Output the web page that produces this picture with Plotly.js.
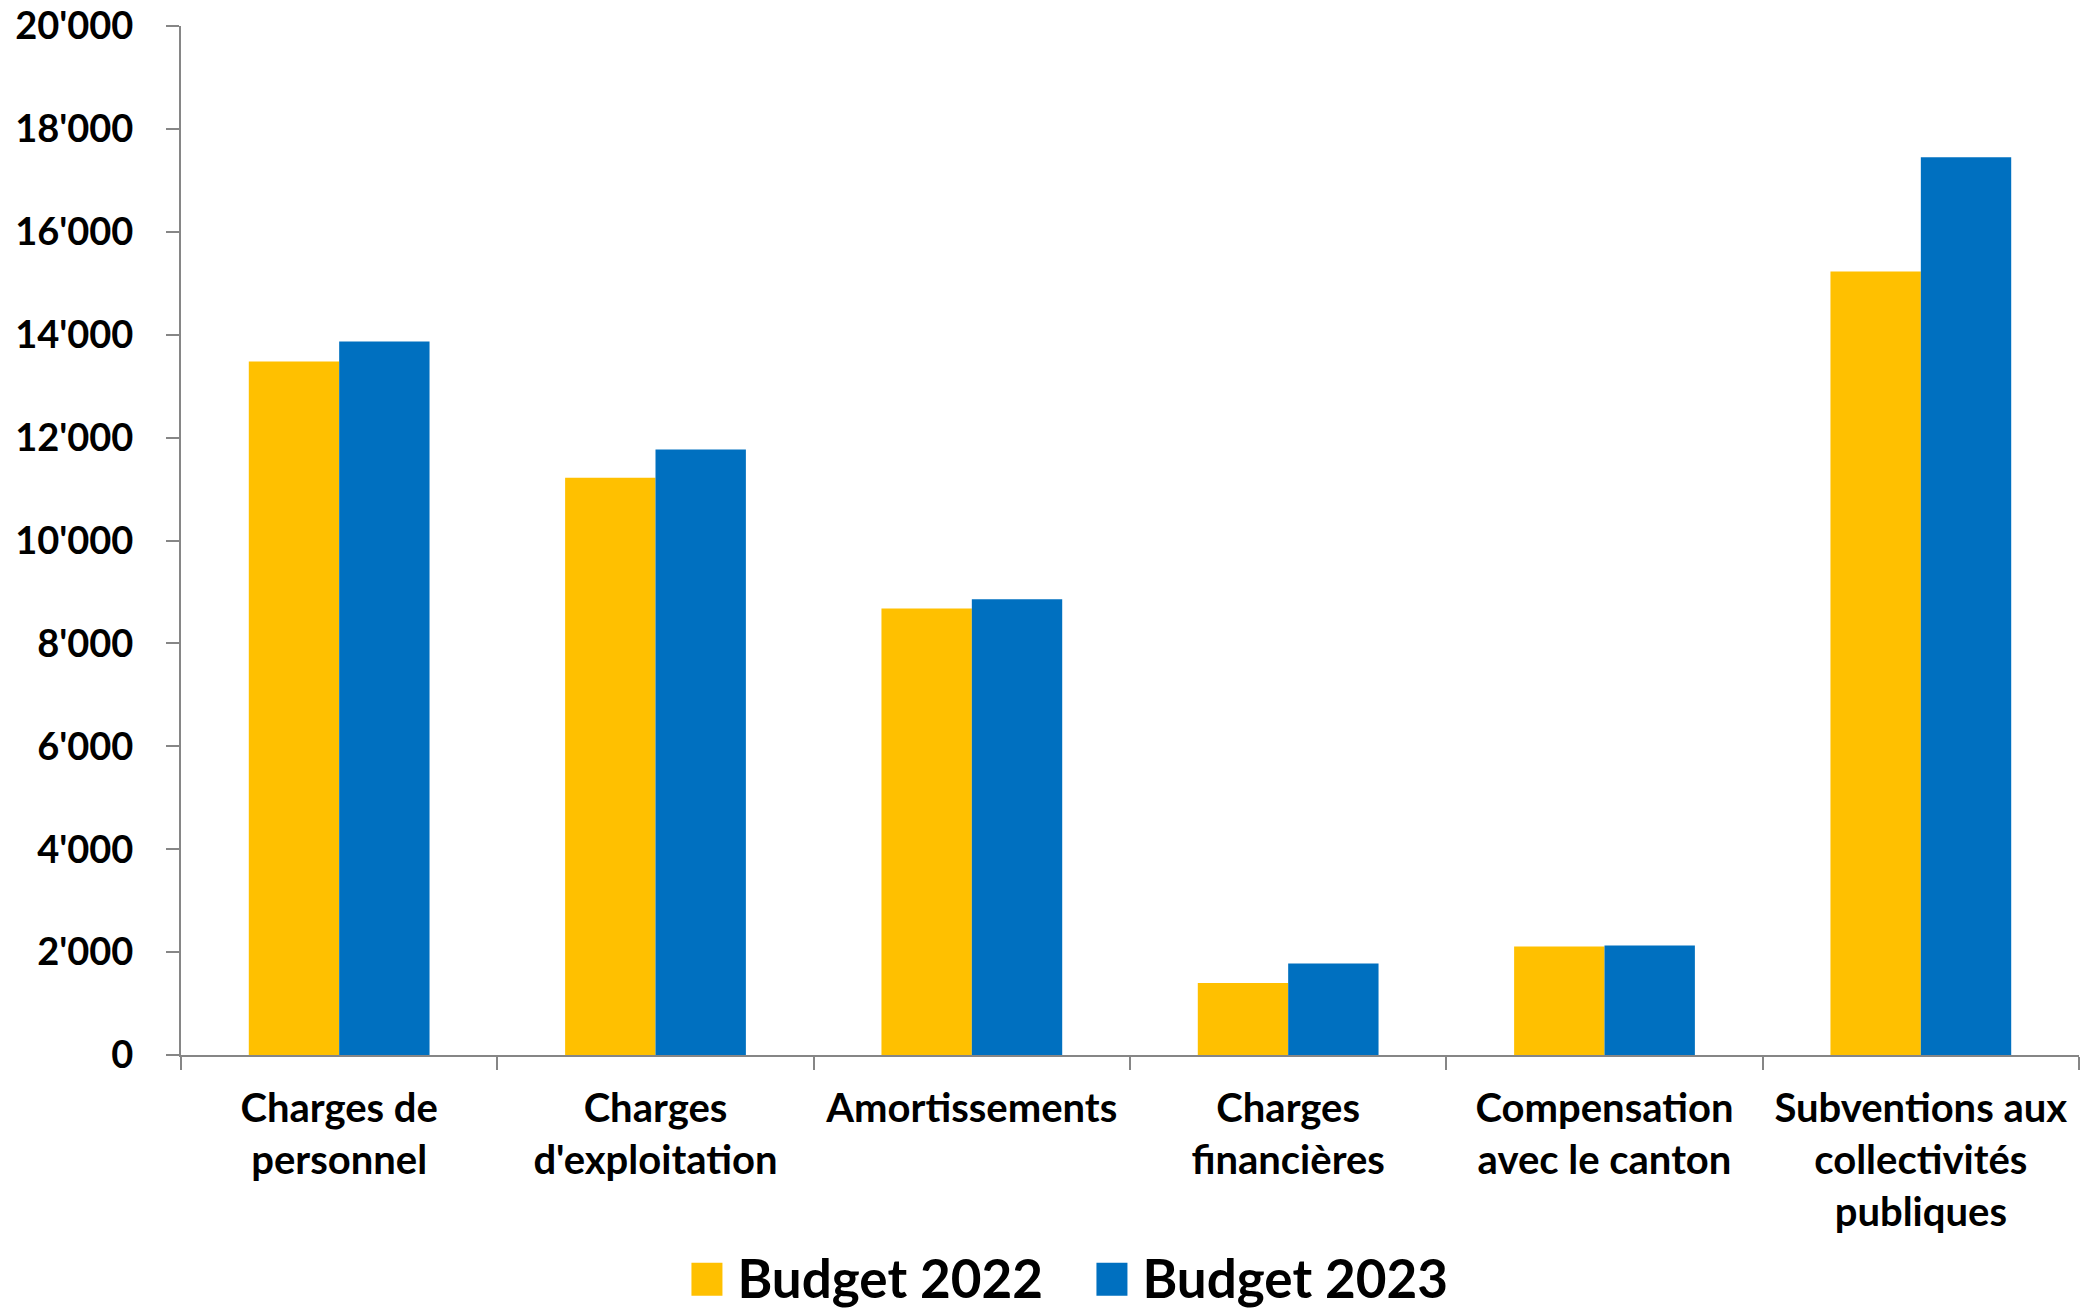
<!DOCTYPE html>
<html>
<head>
<meta charset="utf-8">
<script src="https://cdn.plot.ly/plotly-3.0.1.min.js"></script>
<style>html,body{margin:0;padding:0;background:#fff;}#chart{width:2096px;height:1312px;}</style>
</head>
<body>
<div id="chart"></div>
<script>
const categories = [
  "Charges de<br>personnel",
  "Charges<br>d'exploitation",
  "Amortissements",
  "Charges<br>financières",
  "Compensation<br>avec le canton",
  "Subventions aux<br>collectivités<br>publiques"
];
const budget2022 = [13480, 11220, 8680, 1400, 2110, 15230];
const budget2023 = [13870, 11770, 8860, 1780, 2130, 17450];
const seriesNames = ["Budget 2022", "Budget 2023"];
const seriesColors = ["#FFC000", "#0070C0"];

const fontFamily = "Lato, 'Open Sans', sans-serif";

const traces = [
  {type: 'bar', name: seriesNames[0], x: categories, y: budget2022, marker: {color: seriesColors[0]}},
  {type: 'bar', name: seriesNames[1], x: categories, y: budget2023, marker: {color: seriesColors[1]}}
];

const layout = {
  width: 2096,
  height: 1312,
  margin: {l: 181, r: 17, t: 26, b: 257, autoexpand: false},
  paper_bgcolor: '#ffffff',
  plot_bgcolor: '#ffffff',
  separators: ".'",
  barmode: 'group',
  bargap: 0.4286,
  bargroupgap: 0,
  font: {family: fontFamily, color: '#000000', size: 38, weight: 'bold'},
  showlegend: true,
  legend: {
    orientation: 'h',
    x: 0.2721,
    xanchor: 'left',
    y: -0.2165,
    yanchor: 'middle',
    entrywidth: 360,
    entrywidthmode: 'pixels',
    font: {family: fontFamily, size: 53, color: '#000000', weight: 'bold'},
    itemclick: false,
    traceorder: 'normal',
    bgcolor: 'rgba(0,0,0,0)'
  },
  xaxis: {
    type: 'category',
    automargin: false,
    showline: true,
    linecolor: '#868686',
    linewidth: 2,
    ticks: 'outside',
    tickson: 'boundaries',
    ticklen: 13,
    tickwidth: 2,
    tickcolor: '#868686',
    showgrid: false,
    zeroline: false,
    tickfont: {family: fontFamily, size: 40, color: '#000000', weight: 'bold'},
    ticklabelstandoff: 17
  },
  yaxis: {
    automargin: false,
    range: [0, 20000],
    dtick: 2000,
    tick0: 0,
    tickformat: ',d',
    showline: true,
    linecolor: '#868686',
    linewidth: 2,
    ticks: 'outside',
    ticklen: 13,
    tickwidth: 2,
    tickcolor: '#868686',
    showgrid: false,
    zeroline: false,
    tickfont: {family: fontFamily, size: 38, color: '#000000', weight: 'bold'},
    ticklabelstandoff: 25
  }
};

Plotly.newPlot('chart', traces, layout, {staticPlot: true}).then(function () {
  document.querySelectorAll('.legend [clip-path]').forEach(function (e) {
    e.removeAttribute('clip-path');
  });
  document.querySelectorAll('.legend .legendpoints path').forEach(function (p) {
    p.setAttribute('d', 'M-26,-15H5V18H-26Z');
  });
});
</script>
</body>
</html>
